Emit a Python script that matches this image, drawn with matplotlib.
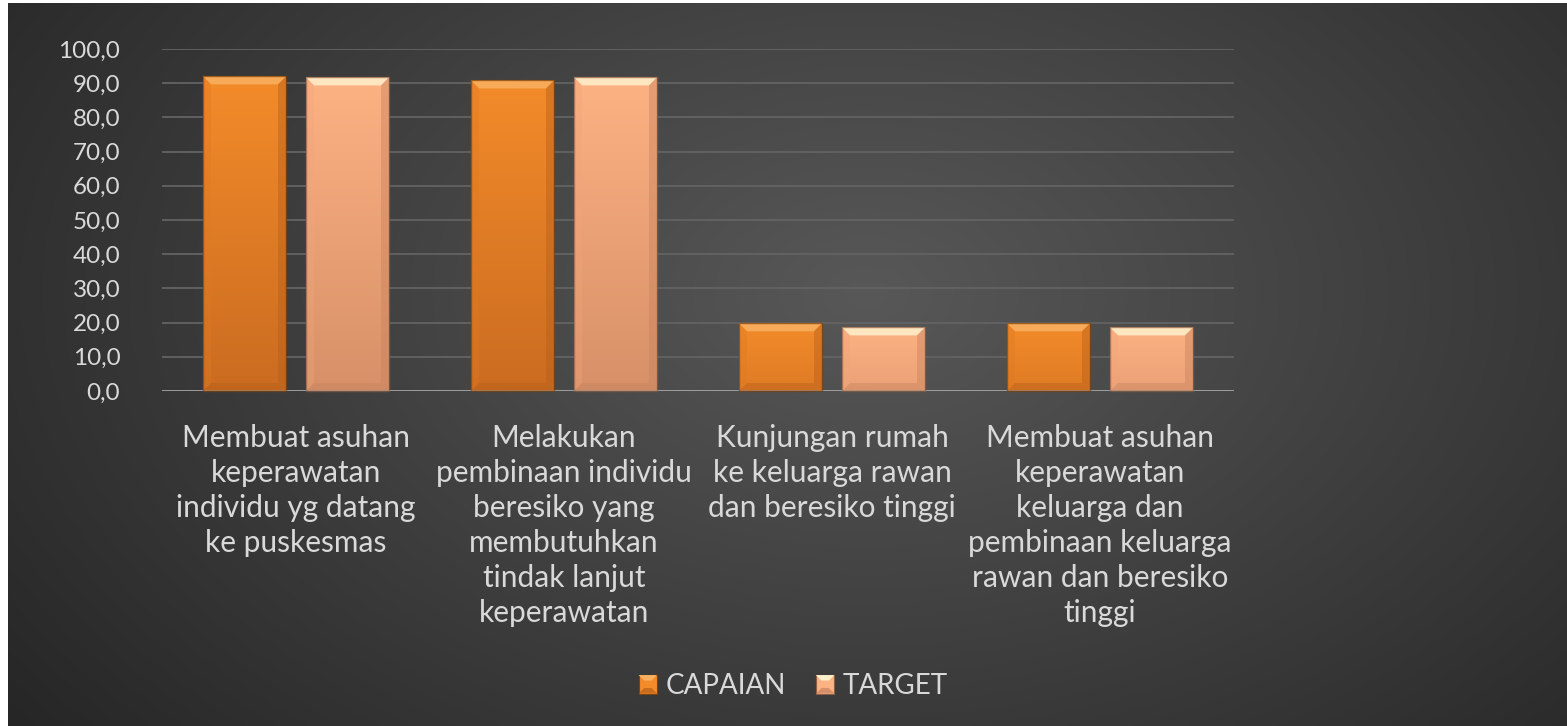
import numpy as np
import matplotlib
matplotlib.use("Agg")
import matplotlib.pyplot as plt
from matplotlib.patches import Polygon, Rectangle
from matplotlib.legend_handler import HandlerBase
from matplotlib.colors import to_rgb

categories = [
    "Membuat asuhan\nkeperawatan\nindividu yg datang\nke puskesmas",
    "Melakukan\npembinaan individu\nberesiko yang\nmembutuhkan\ntindak lanjut\nkeperawatan",
    "Kunjungan rumah\nke keluarga rawan\ndan beresiko tinggi",
    "Membuat asuhan\nkeperawatan\nkeluarga dan\npembinaan keluarga\nrawan dan beresiko\ntinggi",
]
capaian = [92.0, 90.8, 19.8, 19.8]
target = [91.7, 91.7, 18.6, 18.6]
series_names = ["CAPAIAN", "TARGET"]
yticks = [0, 10, 20, 30, 40, 50, 60, 70, 80, 90, 100]

W, H = 1567, 726
fig = plt.figure(figsize=(W / 100, H / 100), dpi=100)
fig.patch.set_facecolor("white")

# background with radial gradient (white strip at left/top)
bg = fig.add_axes([8 / W, 0, 1 - 8 / W, 1 - 3 / H])
bg.set_axis_off()
yy, xx = np.mgrid[0:300, 0:600]
cx, cy = 330, 120
r = np.sqrt(((xx - cx) / 600) ** 2 + ((yy - cy) / 420) ** 2)
r = np.clip(r / r.max(), 0, 1)
c0 = np.array([0x58, 0x58, 0x58]) / 255
c1 = np.array([0x26, 0x26, 0x26]) / 255
img = c0[None, None, :] * (1 - r[..., None]) + c1[None, None, :] * r[..., None]
bg.imshow(img, aspect="auto", extent=[0, 1, 0, 1], origin="upper")

font = ["Lato", "DejaVu Sans"]
txt = "#d9d9d9"

left, right = 162, 1234
top_px, bot_px = 49, 391
ax = fig.add_axes([left / W, 1 - bot_px / H, (right - left) / W, (bot_px - top_px) / H])
ax.patch.set_alpha(0)
ax.set_ylim(0, 100)
ax.set_xlim(-0.5, len(categories) - 0.5)
x = np.arange(len(categories))
bw = 83 / 268
off = (83 + 20) / 2 / 268

cols = {
    "CAPAIAN": dict(face="#f38b2a", dark="#c86a20", top="#f9b060", bot="#b85f1a", side="#e07a22", edge="#7a4210"),
    "TARGET": dict(face="#fdb283", dark="#d58e66", top="#fff0cc", bot="#c88460", side="#f2a67a", edge="#8a5e46"),
}

bars1 = ax.bar(x - off, capaian, bw, color=cols["CAPAIAN"]["face"], zorder=3, label="CAPAIAN")
bars2 = ax.bar(x + off, target, bw, color=cols["TARGET"]["face"], zorder=3, label="TARGET")

for v in yticks[1:]:
    ax.axhline(v, color="#636363", lw=1.3, zorder=1)
ax.axhline(0, color="#a6a6a6", lw=2.0, zorder=4)

for s in ax.spines.values():
    s.set_visible(False)
ax.set_yticks(yticks)
ax.set_yticklabels([f"{v:.1f}".replace(".", ",") for v in yticks], fontsize=17.5,
                   color=txt, family=font)
ax.tick_params(axis="y", length=0, pad=30)
ax.set_xticks(x)
ax.set_xticklabels(categories, fontsize=21.5, color=txt, family=font, linespacing=1.3, va="top")
ax.tick_params(axis="x", length=0, pad=24)


def gradient_fill(bar, c):
    h = bar.get_height()
    t = np.linspace(1, 0, 64)[:, None, None]  # top -> bottom
    amt = (1 - t) * (0.35 + 0.65 * h / 100)
    face = np.array(to_rgb(c["face"]))
    dark = np.array(to_rgb(c["dark"]))
    g = face * (1 - amt) + dark * amt
    im = ax.imshow(g, aspect="auto", extent=[bar.get_x(), bar.get_x() + bar.get_width(), 0, h],
                   origin="upper", zorder=3.5, interpolation="bilinear")
    im.set_clip_path(bar)


for b in bars1:
    gradient_fill(b, cols["CAPAIAN"])
for b in bars2:
    gradient_fill(b, cols["TARGET"])
ax.set_xlim(-0.5, len(categories) - 0.5)
ax.set_ylim(0, 100)
ax.set_aspect("auto")

fig.canvas.draw()


def bevel(bar, c, b=8):
    (x0, y0), (x1, y1) = ax.transData.transform([(bar.get_x(), 0), (bar.get_x() + bar.get_width(), bar.get_height())])
    b = min(b, (y1 - y0) / 2)
    polys = [
        ([(x0, y1), (x1, y1), (x1 - b, y1 - b), (x0 + b, y1 - b)], c["top"], 0.85),
        ([(x0, y0), (x1, y0), (x1 - b, y0 + b), (x0 + b, y0 + b)], c["bot"], 0.45),
        ([(x0, y0), (x0, y1), (x0 + b, y1 - b), (x0 + b, y0 + b)], c["side"], 0.35),
        ([(x1, y0), (x1, y1), (x1 - b, y1 - b), (x1 - b, y0 + b)], c["bot"], 0.45),
    ]
    for pts, col, a in polys:
        fig.patches.append(Polygon(pts, closed=True, transform=None, facecolor=col, edgecolor="none", zorder=5, alpha=a))
    fig.patches.append(Rectangle((x0, y0), x1 - x0, y1 - y0, transform=None, fill=False, edgecolor=c["edge"], lw=1, zorder=6, alpha=0.7))


for b in bars1:
    bevel(b, cols["CAPAIAN"])
for b in bars2:
    bevel(b, cols["TARGET"])


class BevelHandler(HandlerBase):
    def create_artists(self, legend, orig_handle, xd, yd, width, height, fontsize, trans):
        c = cols[orig_handle.get_label()]
        s = height * 0.95
        x0 = xd + width - s
        y0 = yd + (height - s) / 2
        arts = [Rectangle((x0, y0), s, s, facecolor=c["face"], edgecolor=c["edge"], lw=0.8, transform=trans)]
        bb = s * 0.3
        arts.append(Polygon([(x0, y0 + s), (x0 + s, y0 + s), (x0 + s - bb, y0 + s - bb), (x0 + bb, y0 + s - bb)],
                            facecolor=c["top"], edgecolor="none", transform=trans))
        arts.append(Polygon([(x0, y0), (x0 + s, y0), (x0 + s - bb, y0 + bb), (x0 + bb, y0 + bb)],
                            facecolor=c["bot"], edgecolor="none", transform=trans, alpha=0.7))
        return arts


leg = fig.legend(handles=[bars1, bars2], labels=series_names, loc="center",
                 bbox_to_anchor=(792 / W, 1 - 686 / H), ncol=2, frameon=False,
                 prop=dict(family=font, size=20), labelcolor=txt,
                 handler_map={type(bars1): BevelHandler()},
                 handlelength=0.75, handletextpad=0.3, columnspacing=1.0)

fig.savefig("out.png", dpi=100)
